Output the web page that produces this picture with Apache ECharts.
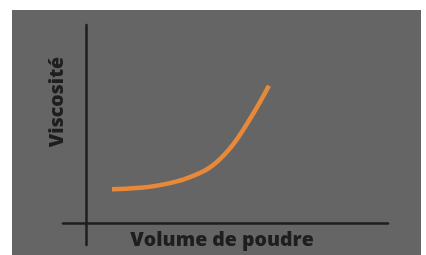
<!DOCTYPE html>
<html>
<head>
<meta charset="utf-8">
<script src="https://cdn.jsdelivr.net/npm/echarts@6/dist/echarts.min.js"></script>
<style>
	html, body { margin: 0; padding: 0; background: #fff; }
	#chart { width: 426px; height: 255px; }
</style>
</head>
<body>
<div id="chart"></div>
<script>
// courbe de viscosité (unités arbitraires)
const powderVolume = [1.11, 2.32, 3.18, 4.04, 4.46, 4.90, 5.33, 5.76, 6.20, 6.63, 7.06, 7.49, 7.87];
const viscosity = [1.53, 1.60, 1.72, 1.93, 2.09, 2.27, 2.53, 2.90, 3.40, 4.02, 4.74, 5.51, 6.24];
const xTitle = "Volume de poudre";
const yTitle = "Viscosité";

const myChart = echarts.init(document.getElementById("chart"));
const axisColor = "#1e1e20";
const titleFont = "800 19.5px 'Open Sans'";

const option = {
	backgroundColor: "#fff",
	animation: false,
	graphic: [
		{
			type: "rect",
			z: -10,
			shape: {x: 12, y: 10, width: 409, height: 245},
			style: {fill: "#656565"}
		},
		{
			type: "text",
			x: 222,
			y: 240,
			style: {
				text: xTitle,
				fill: axisColor,
				font: titleFont,
				textAlign: "center",
				textVerticalAlign: "middle"
			}
		},
		{
			type: "text",
			x: 57,
			y: 102,
			rotation: Math.PI / 2,
			style: {
				text: yTitle,
				fill: axisColor,
				font: titleFont,
				textAlign: "center",
				textVerticalAlign: "middle"
			}
		}
	],
	grid: {left: 63, right: 38, top: 25, bottom: 10},
	xAxis: {
		type: "value",
		min: -1,
		max: 13,
		axisLine: {onZero: true, lineStyle: {color: axisColor, width: 2.5}},
		axisTick: {show: false},
		axisLabel: {show: false},
		splitLine: {show: false}
	},
	yAxis: {
		type: "value",
		min: -1,
		max: 9,
		axisLine: {show: true, onZero: true, lineStyle: {color: axisColor, width: 2.5}},
		axisTick: {show: false},
		axisLabel: {show: false},
		splitLine: {show: false}
	},
	series: [
		{
			type: "line",
			data: powderVolume.map((x, i) => [x, viscosity[i]]),
			smooth: 0.5,
			showSymbol: false,
			symbol: "none",
			lineStyle: {color: "#e8893a", width: 4.5}
		}
	]
};

myChart.setOption(option);
</script>
</body>
</html>
